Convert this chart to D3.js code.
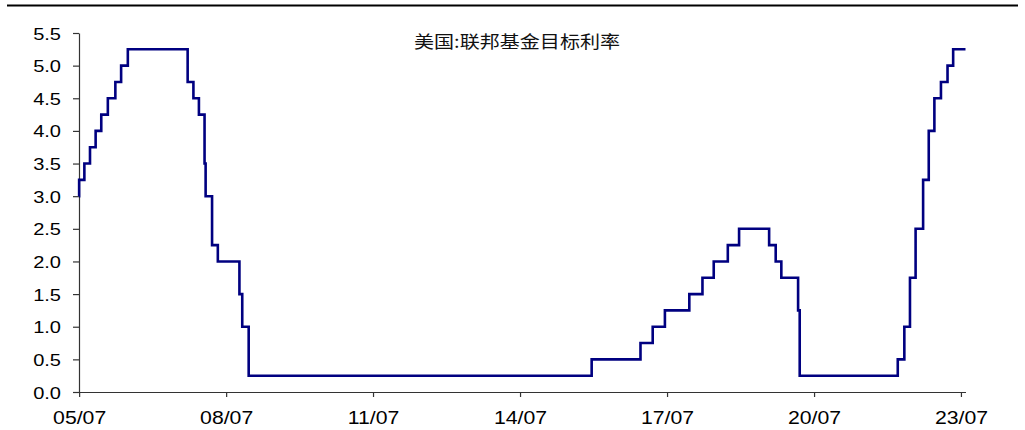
<!DOCTYPE html>
<html>
<head>
<meta charset="utf-8">
<script src="https://cdn.jsdelivr.net/npm/d3@7/dist/d3.min.js"></script>
<style>
  html, body { margin: 0; padding: 0; background: #fff; }
  svg { display: block; }
</style>
</head>
<body>
<svg id="chart" width="1025" height="430"></svg>
<script>
// ---- data ----
const title = "美国:联邦基金目标利率";
const changeDates = [
  "2005-06-30","2005-07-01","2005-08-09","2005-09-20","2005-11-01","2005-12-13",
  "2006-01-31","2006-03-28","2006-05-10","2006-06-29","2007-09-18","2007-10-31",
  "2007-12-11","2008-01-22","2008-01-30","2008-03-18","2008-04-30","2008-10-08",
  "2008-10-29","2008-12-16","2015-12-17","2016-12-15","2017-03-16","2017-06-15",
  "2017-12-14","2018-03-22","2018-06-14","2018-09-27","2018-12-20","2019-08-01",
  "2019-09-19","2019-10-31","2020-03-04","2020-03-16","2022-03-17","2022-05-05",
  "2022-06-16","2022-07-28","2022-09-22","2022-11-03","2022-12-15","2023-02-02",
  "2023-03-23","2023-05-04","2023-08-04"
];
const rateValues = [
  3.00, 3.25, 3.50, 3.75, 4.00, 4.25,
  4.50, 4.75, 5.00, 5.25, 4.75, 4.50,
  4.25, 3.50, 3.00, 2.25, 2.00, 1.50,
  1.00, 0.25, 0.50, 0.75, 1.00, 1.25,
  1.50, 1.75, 2.00, 2.25, 2.50, 2.25,
  2.00, 1.75, 1.25, 0.25, 0.50, 1.00,
  1.75, 2.50, 3.25, 4.00, 4.50, 4.75,
  5.00, 5.25, 5.25
];
const xTickDates = ["2005-07-01","2008-07-01","2011-07-01","2014-07-01","2017-07-01","2020-07-01","2023-07-01"];
const yTickValues = [0,0.5,1,1.5,2,2.5,3,3.5,4,4.5,5,5.5];

// ---- build ----
const parse = d3.timeParse("%Y-%m-%d");
const data = changeDates.map((d, i) => ({ date: parse(d), value: rateValues[i] }));

const svg = d3.select("#chart");
const sx = 1.18; // horizontal stretch of text seen in reference
const latin = "'Liberation Sans', Arial, sans-serif";

const x = d3.scaleTime()
  .domain([parse("2005-06-30"), parse("2023-08-04")])
  .range([79, 965.5]);
const y = d3.scaleLinear().domain([0, 5.5]).range([392, 33]);

// top rule
svg.append("line")
  .attr("x1", 7).attr("x2", 1018).attr("y1", 5.5).attr("y2", 5.5)
  .attr("stroke", "#000").attr("stroke-width", 2.2);

// title
svg.append("text")
  .attr("transform", `translate(517,48) scale(${sx},1)`)
  .attr("text-anchor", "middle")
  .attr("font-family", "'Noto Sans CJK SC', sans-serif")
  .attr("font-size", 17)
  .attr("fill", "#111")
  .text(title);

// y axis
const yAxis = svg.append("g")
  .attr("transform", "translate(79,0)")
  .call(d3.axisLeft(y).tickValues(yTickValues).tickSize(6).tickSizeOuter(0).tickFormat(d3.format(".1f")));
yAxis.select(".domain").attr("stroke", "#333").attr("stroke-width", 1.2);
yAxis.selectAll(".tick line").attr("stroke", "#333").attr("stroke-width", 1.2);
yAxis.selectAll(".tick text")
  .attr("x", null).attr("dy", null)
  .attr("transform", `translate(-18,6) scale(${sx},1)`)
  .attr("font-family", latin).attr("font-size", 17).attr("fill", "#000");

// x axis
const xAxis = svg.append("g")
  .attr("transform", "translate(0,392)")
  .call(d3.axisBottom(x).tickValues(xTickDates.map(parse)).tickSize(5).tickSizeOuter(0).tickFormat(d3.timeFormat("%y/%m")));
xAxis.select(".domain").attr("stroke", "#333").attr("stroke-width", 1.2);
xAxis.selectAll(".tick line").attr("stroke", "#333").attr("stroke-width", 1.2);
xAxis.selectAll(".tick text")
  .attr("y", null).attr("dy", null)
  .attr("transform", `translate(0,32) scale(${sx},1)`)
  .attr("font-family", latin).attr("font-size", 18).attr("fill", "#000");

// series line
const line = d3.line()
  .x(d => x(d.date))
  .y(d => y(d.value))
  .curve(d3.curveStepAfter);

svg.append("path")
  .datum(data)
  .attr("fill", "none")
  .attr("stroke", "#000080")
  .attr("stroke-width", 2.6)
  .attr("stroke-linejoin", "miter")
  .attr("d", line);
</script>
</body>
</html>
